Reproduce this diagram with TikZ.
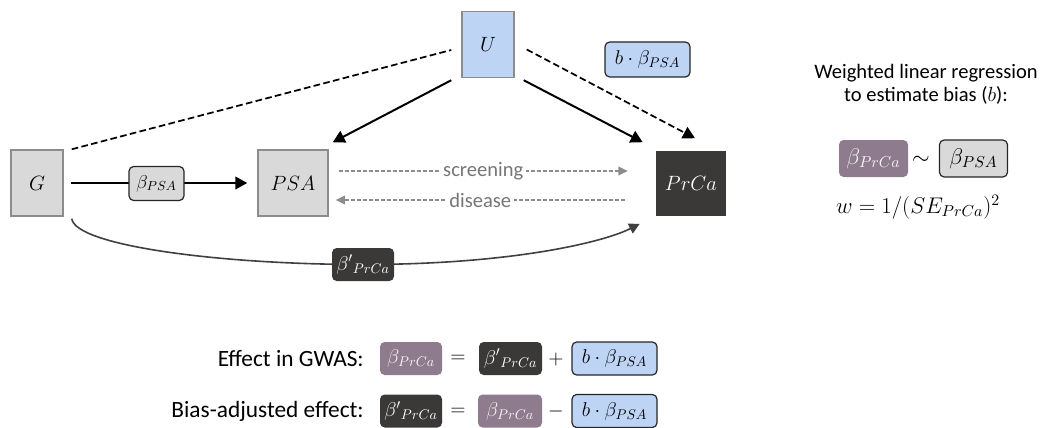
\documentclass[tikz,border=0pt]{standalone}
\usepackage{fix-cm}
\usepackage{fontspec}
\setmainfont{Carlito}
\usetikzlibrary{arrows.meta}
\definecolor{nodegray}{RGB}{217,217,217}
\definecolor{bordergray}{RGB}{140,140,140}
\definecolor{ublue}{RGB}{190,212,245}
\definecolor{darkbox}{RGB}{59,56,56}
\definecolor{mauve}{RGB}{143,123,142}
\definecolor{dashgray}{RGB}{140,140,140}
\definecolor{textgray}{RGB}{118,118,118}
\definecolor{curvegray}{RGB}{64,64,64}
\begin{document}
\begin{tikzpicture}[x=0.75pt,y=-0.75pt,
  varbox/.style={draw=bordergray, line width=1.1pt, inner sep=0pt, font=\fontsize{15.5}{18}\selectfont},
  grayvar/.style={varbox, fill=nodegray},
  bluevar/.style={varbox, fill=ublue},
  darkvar/.style={inner sep=0pt, fill=darkbox, text=white, font=\fontsize{15.5}{18}\selectfont},
  labelbox/.style={rounded corners=3.5pt, inner sep=0pt, font=\fontsize{15}{18}\selectfont},
  psalabel/.style={labelbox, fill=nodegray, draw=black!85, line width=0.9pt},
  bluelabel/.style={labelbox, fill=ublue, draw=black!85, line width=0.9pt},
  darklabel/.style={labelbox, fill=darkbox, text=white},
  mauvelabel/.style={labelbox, fill=mauve, text=white!92!mauve},
  solidarrow/.style={line width=1.5pt, -{Triangle[length=9pt,width=9.5pt]}},
  dashline/.style={line width=1.3pt, dash pattern=on 5pt off 2.5pt},
  grayarrow/.style={line width=1.1pt, dashgray, dash pattern=on 3pt off 1.5pt, -{Triangle[length=7pt,width=6.5pt]}},
  curvearrow/.style={line width=1.2pt, curvegray, -{Triangle[length=8pt,width=8pt]}},
  graytext/.style={fill=white, text=textgray, inner xsep=2pt, inner ysep=1pt, font=\fontsize{15.4}{18}\selectfont},
  sanstext/.style={inner sep=0pt, font=\fontsize{15.4}{17.3}\selectfont},
  bottext/.style={inner sep=0pt, font=\fontsize{17.5}{21}\selectfont}
]
\useasboundingbox (0,0) rectangle (1042,428);

% main variables
\node[grayvar, minimum width=39pt, minimum height=49.5pt] (G) at (37,183) {$G$};
\node[grayvar, minimum width=52.5pt, minimum height=49.5pt] (PSA) at (293,183) {$PSA$};
\node[bluevar, minimum width=39pt, minimum height=49.5pt] (U) at (488,44.5) {$U$};
\node[darkvar, minimum width=52.5pt, minimum height=48.75pt] (PrCa) at (691,183) {$PrCa$};

% connectors
\draw[dashline] ([shift={(8,0)}]G.north east) -- ([shift={(-10,5.5)}]U.west);
\draw[solidarrow] ([shift={(-10,2)}]U.south west) -- ([shift={(4,-7)}]PSA.north east);
\draw[solidarrow] ([shift={(9,2)}]U.south east) -- ([shift={(-13,-8)}]PrCa.north west);
\draw[dashline, -{Triangle[length=9pt,width=9.5pt]}] ([shift={(12,5)}]U.east) -- ([shift={(4,-12)}]PrCa.north);
\draw[solidarrow, shorten <=5.25pt, shorten >=7.5pt] (G.east) -- (PSA.west);
\draw[grayarrow] ([shift={(10,-12)}]PSA.east) -- node[graytext] (scr) {screening} ([shift={(-28,-12)}]PrCa.west);
\draw[grayarrow] ([shift={(-31,17)}]PrCa.west) -- node[graytext] (dis) {disease} ([shift={(7,17)}]PSA.east);
\coordinate (bpc) at (363,264.5);
\draw[curvearrow] ([shift={(8,2)}]G.south east) .. controls +(4,27) and +(-143,0) .. (bpc)
  .. controls +(150,0) and +(-35,18) .. ([shift={(-16,8)}]PrCa.south west);

% edge labels
\node[psalabel, minimum width=41.25pt, minimum height=25.5pt, font=\fontsize{14}{16}\selectfont] (bpsa) at (156.5,183.5) {$\beta_{PSA}$};
\node[bluelabel, minimum width=63.75pt, minimum height=26.25pt] (bb) at (647.5,59.5) {$b\cdot\beta_{PSA}$};
\node[darklabel, minimum width=46.5pt, minimum height=24.75pt] (bp) at (bpc) {${\beta'}{}_{PrCa}$};

% regression panel
\node[sanstext, align=center] (reg) at (926,84.5) {Weighted linear regression\\to estimate bias ($b$):};
\node[mauvelabel, minimum width=51.75pt, minimum height=27.75pt, font=\fontsize{17}{20}\selectfont] (r1) at (873.5,158.5) {$\beta_{PrCa}$};
\node[inner sep=0pt, font=\fontsize{17}{20}\selectfont] (tl) at (921,160) {$\sim$};
\node[psalabel, minimum width=51pt, minimum height=27.75pt, font=\fontsize{17}{20}\selectfont] (r2) at (973.5,158.5) {$\beta_{PSA}$};
\node[inner sep=0pt, font=\fontsize{17}{20}\selectfont] (wt) at (918,207) {$w = 1/(SE_{PrCa})^2$};

% equations
\node[bottext, anchor=east] (eff) at (364,359) {Effect in GWAS:};
\node[mauvelabel, minimum width=46.5pt, minimum height=24.75pt] (e1) at (411,358.5) {$\beta_{PrCa}$};
\node[inner sep=0pt, font=\fontsize{15}{18}\selectfont] (eq1) at (458,359) {$=$};
\node[darklabel, minimum width=47.25pt, minimum height=24.75pt] (e2) at (510.5,358.5) {${\beta'}{}_{PrCa}$};
\node[inner sep=0pt, font=\fontsize{15}{18}\selectfont] (pl) at (556,359) {$+$};
\node[bluelabel, minimum width=63.75pt, minimum height=24.75pt] (e3) at (614.5,358.5) {$b\cdot\beta_{PSA}$};

\node[bottext, anchor=east] (adj) at (364,411.5) {Bias-adjusted effect:};
\node[darklabel, minimum width=46.5pt, minimum height=24.75pt] (a1) at (411,411) {${\beta'}{}_{PrCa}$};
\node[inner sep=0pt, font=\fontsize{15}{18}\selectfont] (eq2) at (458,411.5) {$=$};
\node[mauvelabel, minimum width=48pt, minimum height=24.75pt] (a2) at (510,411) {$\beta_{PrCa}$};
\node[inner sep=0pt, font=\fontsize{15}{18}\selectfont] (mi) at (556,411.5) {$-$};
\node[bluelabel, minimum width=63.75pt, minimum height=24.75pt] (a3) at (614.5,411) {$b\cdot\beta_{PSA}$};
\end{tikzpicture}
\end{document}
